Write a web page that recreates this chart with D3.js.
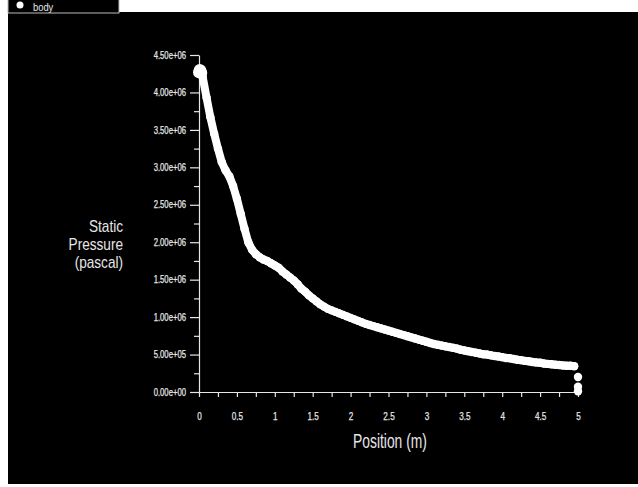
<!DOCTYPE html>
<html>
<head>
<meta charset="utf-8">
<script src="https://cdn.jsdelivr.net/npm/d3@7"></script>
<style>
  html, body { margin: 0; padding: 0; background: #fff; }
  svg { display: block; }
</style>
</head>
<body>
<div id="chart"></div>
<script>
// chart data (position in m, static pressure in Pa)
var positions = [0.00, 0.01, 0.02, 0.03, 0.05, 0.10, 0.15, 0.20, 0.25, 0.30, 0.35, 0.40, 0.45, 0.50,
  0.55, 0.60, 0.65, 0.70, 0.75, 0.80, 0.85, 0.90, 0.95, 1.00, 1.05, 1.10, 1.15, 1.20,
  1.25, 1.30, 1.35, 1.40, 1.45, 1.50, 1.55, 1.60, 1.65, 1.70, 1.75, 1.80, 1.85, 1.90,
  1.95, 2.00, 2.05, 2.10, 2.15, 2.20, 2.25, 2.30, 2.35, 2.40, 2.45, 2.50, 2.55, 2.60,
  2.65, 2.70, 2.75, 2.80, 2.85, 2.90, 2.95, 3.00, 3.05, 3.10, 3.15, 3.20, 3.25, 3.30,
  3.35, 3.40, 3.45, 3.50, 3.55, 3.60, 3.65, 3.70, 3.75, 3.80, 3.85, 3.90, 3.95, 4.00,
  4.05, 4.10, 4.15, 4.20, 4.25, 4.30, 4.35, 4.40, 4.45, 4.50, 4.55, 4.60, 4.65, 4.70,
  4.75, 4.80, 4.85, 4.90, 4.95];
var pressures = [4.27e6, 4.30e6, 4.29e6, 4.26e6, 4.20e6, 3.93e6, 3.67e6, 3.45e6, 3.25e6, 3.07e6, 2.96e6, 2.88e6, 2.75e6, 2.58e6,
  2.38e6, 2.18e6, 2.00e6, 1.90e6, 1.84e6, 1.80e6, 1.77e6, 1.75e6, 1.72e6, 1.69e6, 1.66e6, 1.61e6, 1.57e6, 1.53e6,
  1.49e6, 1.44e6, 1.38e6, 1.34e6, 1.29e6, 1.25e6, 1.21e6, 1.17e6, 1.14e6, 1.11e6, 1.09e6, 1.07e6, 1.05e6, 1.03e6,
  1.01e6, 0.99e6, 0.97e6, 0.95e6, 0.93e6, 0.91e6, 0.895e6, 0.88e6, 0.865e6, 0.85e6, 0.835e6, 0.82e6, 0.805e6, 0.79e6,
  0.775e6, 0.76e6, 0.745e6, 0.73e6, 0.715e6, 0.70e6, 0.685e6, 0.67e6, 0.655e6, 0.64e6, 0.63e6, 0.62e6, 0.61e6, 0.60e6,
  0.59e6, 0.58e6, 0.565e6, 0.555e6, 0.545e6, 0.535e6, 0.525e6, 0.515e6, 0.505e6, 0.50e6, 0.49e6, 0.48e6, 0.475e6, 0.465e6,
  0.455e6, 0.45e6, 0.44e6, 0.43e6, 0.425e6, 0.415e6, 0.41e6, 0.40e6, 0.395e6, 0.39e6, 0.38e6, 0.375e6, 0.37e6, 0.365e6,
  0.36e6, 0.355e6, 0.35e6, 0.35e6, 0.345e6];
// the outlet end: a few nodes stacked at x = 5
var endPositions = [5.0, 5.0, 5.0];
var endPressures = [0.20e6, 0.07e6, 0.01e6];

var xTicks = [0, 0.5, 1, 1.5, 2, 2.5, 3, 3.5, 4, 4.5, 5];
var xTickLabels = ["0", "0.5", "1", "1.5", "2", "2.5", "3", "3.5", "4", "4.5", "5"];
var xMinorTicks = [0.25, 0.75, 1.25, 1.75, 2.25, 2.75, 3.25, 3.75, 4.25, 4.75];
var yTicks = [0, 0.5e6, 1e6, 1.5e6, 2e6, 2.5e6, 3e6, 3.5e6, 4e6, 4.5e6];
var yTickLabels = ["0.00e+00", "5.00e+05", "1.00e+06", "1.50e+06", "2.00e+06",
  "2.50e+06", "3.00e+06", "3.50e+06", "4.00e+06", "4.50e+06"];
var yMinorTicks = [0.25e6, 0.75e6, 1.25e6, 1.75e6, 2.25e6, 2.75e6, 3.25e6, 3.75e6, 4.25e6];
var seriesName = "body";

var svgWidth = 638;
var svgHeight = 487;
var fg = "#e6e6e6";
var font = "'Liberation Sans', Arial, sans-serif";

// squeeze a text horizontally so it looks like a narrow face
function narrow(sel, f) {
  sel.each(function() {
    var w = this.getComputedTextLength();
    d3.select(this).attr("textLength", w * f).attr("lengthAdjust", "spacingAndGlyphs");
  });
}

var svg = d3.select("#chart")
  .append("svg")
  .attr("width", svgWidth)
  .attr("height", svgHeight);

// white page with the black graphics window
svg.append("rect").attr("width", svgWidth).attr("height", svgHeight).attr("fill", "#fff");
svg.append("rect")
  .attr("x", 8).attr("y", 12)
  .attr("width", svgWidth - 8).attr("height", 472)
  .attr("fill", "#000");

// scales
var xScale = d3.scaleLinear().domain([0, 5]).range([199, 578]);
var yScale = d3.scaleLinear().domain([0, 4.5e6]).range([392, 55]);

// minor ticks first, without domain lines
svg.append("g")
  .attr("transform", "translate(0," + yScale(0) + ")")
  .call(d3.axisBottom(xScale).tickValues(xMinorTicks).tickSize(5).tickFormat(""))
  .call(g => g.select(".domain").remove());
svg.append("g")
  .attr("transform", "translate(" + xScale(0) + ",0)")
  .call(d3.axisLeft(yScale).tickValues(yMinorTicks).tickSize(5).tickFormat(""))
  .call(g => g.select(".domain").remove());

// major axes
var xAxis = svg.append("g")
  .attr("transform", "translate(0," + yScale(0) + ")")
  .call(d3.axisBottom(xScale).tickValues(xTicks).tickSize(5).tickSizeOuter(0)
    .tickPadding(15).tickFormat((d, i) => xTickLabels[i]));
xAxis.selectAll("text").attr("font-size", "11px");

var yAxis = svg.append("g")
  .attr("transform", "translate(" + xScale(0) + ",0)")
  .call(d3.axisLeft(yScale).tickValues(yTicks).tickSize(9).tickSizeOuter(0)
    .tickPadding(4).tickFormat((d, i) => yTickLabels[i]));
yAxis.selectAll("text").attr("font-size", "10px");

svg.selectAll(".tick line, .domain").attr("stroke", fg).attr("stroke-width", 1.2);
svg.selectAll(".tick text").attr("fill", fg).attr("font-family", font)
  .attr("stroke", fg).attr("stroke-width", 0.25);
narrow(xAxis.selectAll(".tick text"), 0.74);
narrow(yAxis.selectAll(".tick text"), 0.77);

// the curve: thick line through the nodes plus a marker on each node
var pts = positions.map((p, i) => [p, pressures[i]]);
var line = d3.line().x(d => xScale(d[0])).y(d => yScale(d[1]));
svg.append("path")
  .datum(pts)
  .attr("d", line)
  .attr("fill", "none")
  .attr("stroke", "#fff")
  .attr("stroke-width", 8)
  .attr("stroke-linejoin", "round")
  .attr("stroke-linecap", "round");

svg.append("g").selectAll("circle")
  .data(pts.concat(endPositions.map((p, i) => [p, endPressures[i]])))
  .join("circle")
  .attr("cx", d => xScale(d[0]))
  .attr("cy", d => yScale(d[1]))
  .attr("r", (d, i) => i < 4 ? 6 : 4.2)
  .attr("fill", "#fff");

// axis titles
var xTitle = svg.append("text")
  .attr("x", 390).attr("y", 448)
  .attr("text-anchor", "middle")
  .attr("font-family", font)
  .attr("font-size", "19.5px")
  .attr("fill", fg)
  .text("Position (m)");
narrow(xTitle, 0.71);

var yTitle = ["Static", "Pressure", "(pascal)"];
var yTitleText = svg.append("g").selectAll("text")
  .data(yTitle)
  .join("text")
  .attr("x", 123)
  .attr("y", (d, i) => 232 + i * 18)
  .attr("text-anchor", "end")
  .attr("font-family", font)
  .attr("font-size", "17px")
  .attr("fill", fg)
  .text(d => d);
narrow(yTitleText, 0.8);

// legend box in the top-left corner
svg.append("rect")
  .attr("x", 8).attr("y", -2)
  .attr("width", 111).attr("height", 15)
  .attr("fill", "#000")
  .attr("stroke", "#bbb")
  .attr("stroke-width", 1);
svg.append("circle")
  .attr("cx", 20).attr("cy", 5).attr("r", 3.5)
  .attr("fill", "#fff");
var legendText = svg.append("text")
  .attr("x", 33).attr("y", 11)
  .attr("font-family", font)
  .attr("font-size", "11px")
  .attr("fill", fg)
  .text(seriesName);
narrow(legendText, 0.85);
</script>
</body>
</html>
